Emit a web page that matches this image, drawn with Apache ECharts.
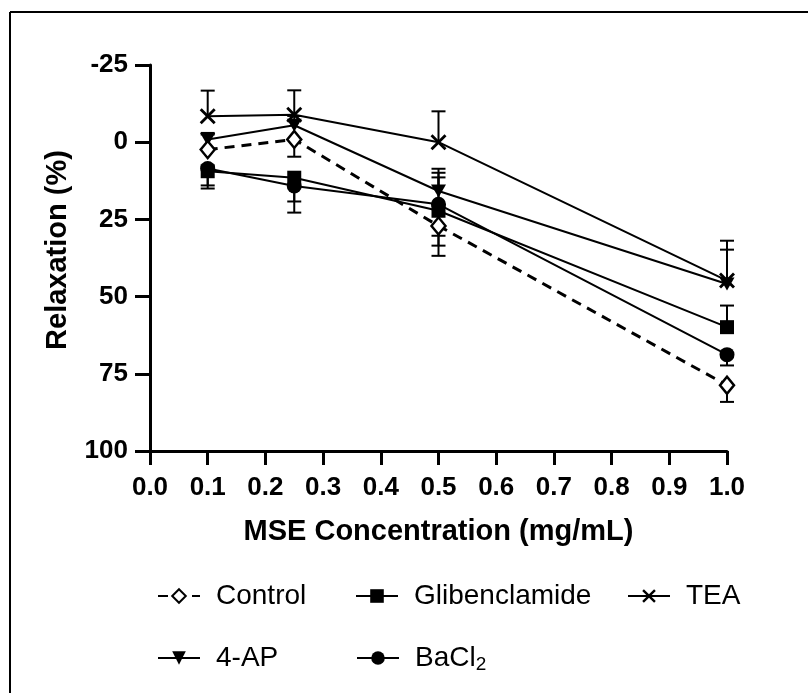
<!DOCTYPE html>
<html>
<head>
<meta charset="utf-8">
<script src="https://cdn.jsdelivr.net/npm/echarts@6/dist/echarts.min.js"></script>
<style>
  html, body { margin: 0; padding: 0; background: #fff; }
  #main { width: 808px; height: 693px; }
</style>
</head>
<body>
<div id="main"></div>
<script>
// x values (mg/mL)
const conc = [0.1, 0.25, 0.5, 1.0];
const xTicks = ['0.0','0.1','0.2','0.3','0.4','0.5','0.6','0.7','0.8','0.9','1.0'];

// relaxation (%)
const control       = [2.4, -0.9, 27.1, 78.7];
const glibenclamide = [9.4, 11.5, 22.2, 59.9];
const tea           = [-8.4, -8.9, 0.0, 44.8];
const ap4           = [-0.9, -5.5, 15.8, 45.9];
const bacl2         = [8.5, 14.2, 20.1, 68.8];

// error bar lengths, up = towards top of plot, down = towards bottom
const controlErrUp   = [4.9, 0, 0, 0];
const controlErrDown = [0, 5.6, 9.7, 5.4];
const glibErrUp      = [0, 0, 10.8, 7.0];
const glibErrDown    = [5.6, 7.7, 11.3, 0];
const teaErrUp       = [8.3, 7.9, 10.0, 12.9];
const teaErrDown     = [0, 0, 0, 0];
const ap4ErrUp       = [2.1, 3.0, 7.2, 11.1];
const ap4ErrDown     = [0, 0, 0, 0];
const bacl2ErrUp     = [0, 0, 10.2, 0];
const bacl2ErrDown   = [5.5, 8.6, 10.2, 3.5];

const FONT = '"Liberation Sans", Arial, sans-serif';
const xSymbol = 'path://M0,2.5 L2.5,0 L10,7.5 L17.5,0 L20,2.5 L12.5,10 L20,17.5 L17.5,20 L10,12.5 L2.5,20 L0,17.5 L7.5,10 Z';

function pts(vals) {
  return conc.map(function (c, i) { return [c, vals[i]]; });
}
function errPts(vals, up, down) {
  return conc.map(function (c, i) { return [c, vals[i], up[i], down[i]]; });
}

function renderErr(params, api) {
  var x = api.value(0), y = api.value(1), up = api.value(2), dn = api.value(3);
  var top = api.coord([x, y - up]);
  var bot = api.coord([x, y + dn]);
  var st = { stroke: '#000', lineWidth: 2 };
  var kids = [{ type: 'line', shape: { x1: top[0], y1: top[1], x2: bot[0], y2: bot[1] }, style: st }];
  if (up > 0) kids.push({ type: 'line', shape: { x1: top[0] - 7, y1: top[1], x2: top[0] + 7, y2: top[1] }, style: st });
  if (dn > 0) kids.push({ type: 'line', shape: { x1: bot[0] - 7, y1: bot[1], x2: bot[0] + 7, y2: bot[1] }, style: st });
  return { type: 'group', children: kids };
}

function errSeries(name, vals, up, down) {
  return {
    name: name + ' err',
    type: 'custom',
    renderItem: renderErr,
    data: errPts(vals, up, down),
    encode: { x: 0, y: 1 },
    z: 1,
    silent: true
  };
}

function legendAt(name, left, top) {
  return {
    data: [name],
    left: left,
    top: top,
    itemWidth: 42,
    itemHeight: 17,
    selectedMode: false,
    formatter: function (n) { return n === 'BaCl2' ? 'BaCl{sub|2}' : n; },
    textStyle: {
      fontFamily: FONT,
      fontSize: 28,
      color: '#000',
      padding: [0, 0, 0, 11],
      rich: {
        sub: { fontFamily: FONT, fontSize: 19, color: '#000', padding: [13, 0, 0, 0] }
      }
    }
  };
}

var chart = echarts.init(document.getElementById('main'), null, { renderer: 'canvas' });

var axisLineStyle = { color: '#000', width: 3 };

var option = {
  backgroundColor: '#fff',
  animation: false,
  grid: { left: 150, right: 81, top: 65, bottom: 242 },
  graphic: [
    { type: 'line', shape: { x1: 10, y1: 12, x2: 808, y2: 12 }, style: { stroke: '#000', lineWidth: 2 } },
    { type: 'line', shape: { x1: 10, y1: 12, x2: 10, y2: 693 }, style: { stroke: '#000', lineWidth: 2 } }
  ],
  legend: [
    legendAt('Control', 152, 577),
    legendAt('Glibenclamide', 350, 577),
    legendAt('TEA', 622, 577),
    legendAt('4-AP', 152, 639),
    legendAt('BaCl2', 351, 639)
  ],
  xAxis: {
    type: 'value',
    min: 0,
    max: 1,
    interval: 0.1,
    name: 'MSE Concentration (mg/mL)',
    nameLocation: 'middle',
    nameGap: 66,
    nameTextStyle: { fontFamily: FONT, fontSize: 29, fontWeight: 'bold', color: '#000' },
    axisLine: { show: true, onZero: false, lineStyle: axisLineStyle },
    axisTick: { show: true, length: 14, lineStyle: axisLineStyle },
    axisLabel: {
      margin: 24,
      fontFamily: FONT, fontSize: 26, fontWeight: 'bold', color: '#000',
      formatter: function (v) { return xTicks[Math.round(v * 10)]; }
    },
    splitLine: { show: false }
  },
  yAxis: {
    type: 'value',
    inverse: true,
    min: -25,
    max: 100,
    interval: 25,
    name: 'Relaxation (%)',
    nameLocation: 'middle',
    nameGap: 78,
    nameTextStyle: { fontFamily: FONT, fontSize: 29, fontWeight: 'bold', color: '#000', padding: [0, 0, 0, 16] },
    axisLine: { show: true, onZero: false, lineStyle: axisLineStyle },
    axisTick: { show: true, length: 15, lineStyle: axisLineStyle },
    axisLabel: { margin: 22, fontFamily: FONT, fontSize: 26, fontWeight: 'bold', color: '#000' },
    splitLine: { show: false }
  },
  series: [
    errSeries('Glibenclamide', glibenclamide, glibErrUp, glibErrDown),
    errSeries('TEA', tea, teaErrUp, teaErrDown),
    errSeries('4-AP', ap4, ap4ErrUp, ap4ErrDown),
    errSeries('BaCl2', bacl2, bacl2ErrUp, bacl2ErrDown),
    errSeries('Control', control, controlErrUp, controlErrDown),
    {
      name: 'Glibenclamide', type: 'line', data: pts(glibenclamide),
      symbol: 'rect', symbolSize: 14,
      lineStyle: { color: '#000', width: 2 },
      itemStyle: { color: '#000' }
    },
    {
      name: 'TEA', type: 'line', data: pts(tea),
      symbol: xSymbol, symbolSize: 16,
      lineStyle: { color: '#000', width: 2 },
      itemStyle: { color: '#000' }
    },
    {
      name: '4-AP', type: 'line', data: pts(ap4),
      symbol: 'triangle', symbolRotate: 180, symbolSize: [15, 13],
      lineStyle: { color: '#000', width: 2 },
      itemStyle: { color: '#000' }
    },
    {
      name: 'BaCl2', type: 'line', data: pts(bacl2),
      symbol: 'circle', symbolSize: 15,
      lineStyle: { color: '#000', width: 2 },
      itemStyle: { color: '#000' }
    },
    {
      name: 'Control', type: 'line', data: pts(control),
      symbol: 'diamond', symbolSize: [14, 17],
      lineStyle: { color: '#000', width: 3, type: [10, 7] },
      itemStyle: { color: '#fff', borderColor: '#000', borderWidth: 2.5 }
    }
  ]
};

chart.setOption(option);
</script>
</body>
</html>
